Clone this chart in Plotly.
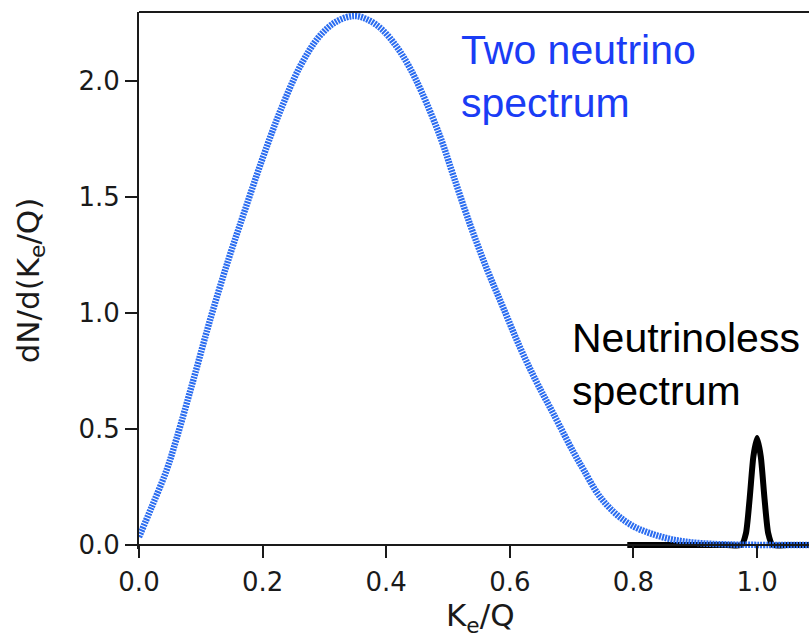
import plotly.graph_objects as go

# Two-neutrino spectrum
two_nu_x = [0.0, 0.02, 0.0448, 0.061, 0.088, 0.115, 0.1445, 0.1724, 0.2, 0.228, 0.2605, 0.2918,
            0.32, 0.348, 0.37, 0.393, 0.417, 0.437, 0.4574, 0.487, 0.5086, 0.5356, 0.5626,
            0.5895, 0.6165, 0.6435, 0.6704, 0.7028, 0.719, 0.745, 0.773, 0.80, 0.827, 0.855,
            0.881, 0.91, 0.95, 1.0, 1.085]
two_nu_y = [0.034, 0.16, 0.323, 0.46, 0.711, 0.969, 1.227, 1.45, 1.665, 1.865, 2.06, 2.19,
            2.255, 2.278, 2.262, 2.22, 2.145, 2.06, 1.95, 1.76, 1.59, 1.38, 1.19,
            1.02, 0.85, 0.70, 0.565, 0.40, 0.325, 0.21, 0.13, 0.08, 0.05, 0.028,
            0.015, 0.007, 0.002, 0.0, 0.0]

# Neutrinoless peak
zero_nu_x = [0.79, 0.95, 0.975, 0.982, 0.988, 0.994, 1.0, 1.006, 1.012, 1.018, 1.025, 1.05, 1.085]
zero_nu_y = [0.0, 0.0, 0.0, 0.05, 0.2, 0.38, 0.46, 0.38, 0.2, 0.05, 0.0, 0.0, 0.0]

x_ticks = [0.0, 0.2, 0.4, 0.6, 0.8, 1.0]
x_tick_text = ["0.0", "0.2", "0.4", "0.6", "0.8", "1.0"]
y_ticks = [0.0, 0.5, 1.0, 1.5, 2.0]
y_tick_text = ["0.0", "0.5", "1.0", "1.5", "2.0"]

x_title = "K<sub>e</sub>/Q"
y_title = "dN/d(K<sub>e</sub>/Q)"

x_range = [0, 1.084]
y_range = [-0.0177, 2.295]   # a little room below zero so the thick lines on y=0 are not clipped

fig = go.Figure()
fig.add_trace(go.Scatter(x=zero_nu_x, y=zero_nu_y, mode="lines",
                         line=dict(color="black", width=6, shape="spline", smoothing=0.6),
                         showlegend=False))
fig.add_trace(go.Scatter(x=two_nu_x, y=two_nu_y, mode="lines",
                         line=dict(color="#2a6cf0", width=6.5, dash="2px,1px", shape="spline", smoothing=1.0),
                         showlegend=False))

axcol = "#1a1a1a"
tickfont = dict(family="DejaVu Sans", size=26, color=axcol)
titlefont = dict(family="DejaVu Sans", size=31, color=axcol)
fig.update_layout(
    width=809, height=633,
    margin=dict(l=139, r=0, t=12, b=84),
    paper_bgcolor="white", plot_bgcolor="white",
    xaxis=dict(range=x_range, tickvals=x_ticks, ticktext=x_tick_text,
               anchor="free", position=-y_range[0] / (y_range[1] - y_range[0]),
               showgrid=False, zeroline=False, showline=True,
               linecolor=axcol, linewidth=2, ticks="outside", ticklen=12,
               tickwidth=2, tickcolor=axcol, tickfont=tickfont, ticklabelstandoff=2),
    yaxis=dict(range=y_range, tickvals=y_ticks, ticktext=y_tick_text,
               showgrid=False, zeroline=False, showline=True, mirror=False,
               linecolor=axcol, linewidth=2, ticks="outside", ticklen=12,
               tickwidth=2, tickcolor=axcol, tickfont=tickfont,
               title=dict(text=y_title, font=titlefont, standoff=30)),
    shapes=[
        # top frame line of the plot area
        dict(type="line", xref="paper", yref="paper", x0=0, x1=1, y0=1, y1=1,
             line=dict(color=axcol, width=2), layer="above"),
    ],
    annotations=[
        # x-axis title
        dict(text=x_title, xref="paper", yref="paper",
             x=0.5 + 6 / 670, y=(549 - 595) / 537, xanchor="center", yanchor="top",
             showarrow=False, font=titlefont),
        dict(text="Two neutrino<br>spectrum", xref="paper", yref="paper",
             x=(459 - 139) / 670, y=(549 - 25) / 537, xanchor="left", yanchor="top",
             align="left", showarrow=False,
             font=dict(family="Liberation Sans", size=41, color="#1a3cf5")),
        dict(text="Neutrinoless<br>spectrum", xref="paper", yref="paper",
             x=(570 - 139) / 670, y=(549 - 313) / 537, xanchor="left", yanchor="top",
             align="left", showarrow=False,
             font=dict(family="Liberation Sans", size=41, color="black")),
    ],
)

fig.write_html("out.html")
